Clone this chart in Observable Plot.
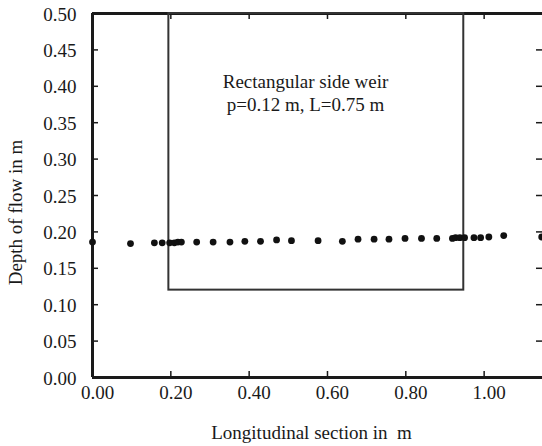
<!DOCTYPE html>
<html>
<head>
<meta charset="utf-8">
<script src="https://cdn.jsdelivr.net/npm/d3@7"></script>
<script src="https://cdn.jsdelivr.net/npm/@observablehq/plot@0.6"></script>
<style>
  html, body { margin: 0; padding: 0; background: #fff; }
  svg text { font-family: "Liberation Serif", "Times New Roman", Times, Tinos, "Noto Serif", "DejaVu Serif", serif !important; }
</style>
</head>
<body>
<div id="chart"></div>
<script>
// Longitudinal section positions (m)
const xPos = [0.000, 0.097, 0.158, 0.178, 0.197, 0.209, 0.218, 0.227, 0.266, 0.308, 0.351, 0.389,
              0.429, 0.470, 0.508, 0.576, 0.638, 0.678, 0.719, 0.757, 0.798, 0.840, 0.879, 0.919,
              0.927, 0.938, 0.950, 0.974, 0.991, 1.012, 1.050, 1.147];
// Depth of flow (m)
const depth = [0.186, 0.184, 0.185, 0.185, 0.185, 0.185, 0.186, 0.186, 0.186, 0.186, 0.186, 0.187,
               0.187, 0.189, 0.188, 0.188, 0.187, 0.190, 0.190, 0.190, 0.191, 0.191, 0.191, 0.191,
               0.192, 0.192, 0.192, 0.192, 0.192, 0.193, 0.195, 0.193];
// Side weir outline: start, end, crest height, top
const weirStart = [0.195];
const weirEnd = [0.948];
const weirCrest = [0.12];
const weirTop = [0.50];
const xTicks = [0, 0.2, 0.4, 0.6, 0.8, 1.0];
const yTicks = [0, 0.05, 0.10, 0.15, 0.20, 0.25, 0.30, 0.35, 0.40, 0.45, 0.50];
const noteText = ["Rectangular side weir\np=0.12 m, L=0.75 m"];
const noteX = [0.544];
const noteY = [0.3925];
const xLabel = "Longitudinal section in  m";
const yLabel = "Depth of flow in m";

const points = xPos.map((x, i) => ({x, y: depth[i]}));
const weir = weirStart.map((s, i) => ({x1: s, x2: weirEnd[i], y1: weirCrest[i], y2: weirTop[i]}));
const note = noteText.map((t, i) => ({t, x: noteX[i], y: noteY[i]}));

const ink = "#1a1a1a";
const font = "'Liberation Serif', 'Times New Roman', Times, Tinos, 'Noto Serif', 'DejaVu Serif', serif";

const W = 542, H = 446, mL = 92, mR = 0, mT = 13, mB = 69;
const tk = 6;
const frameW = W - mL - mR, frameH = H - mT - mB;

const chart = Plot.plot({
  width: W,
  height: H,
  marginLeft: mL,
  marginRight: mR,
  marginTop: mT,
  marginBottom: mB,
  style: {fontFamily: font, fontSize: "19px", color: ink, background: "#fff"},
  x: {domain: [0, 1.149]},
  y: {domain: [0, 0.5]},
  marks: [
    // tick labels
    Plot.axisX({anchor: "bottom", ticks: xTicks, tickFormat: d3.format(".2f"), tickSize: 0, tickPadding: 8, dx: 5, label: null, fill: ink}),
    Plot.axisY({anchor: "left", ticks: yTicks, tickFormat: d3.format(".2f"), tickSize: 0, tickPadding: 16, dy: 1, label: null, fill: ink}),
    // inward tick marks on all four sides
    Plot.tickY(yTicks, {y: d => d, insetRight: frameW - tk, stroke: ink, strokeWidth: 1.5}),
    Plot.tickY(yTicks, {y: d => d, insetLeft: frameW - tk, stroke: ink, strokeWidth: 1.5}),
    Plot.tickX(xTicks, {x: d => d, insetTop: frameH - tk, stroke: ink, strokeWidth: 1.5}),
    Plot.tickX(xTicks, {x: d => d, insetBottom: frameH - tk, stroke: ink, strokeWidth: 1.5}),
    // frame
    Plot.ruleX([0], {stroke: ink, strokeWidth: 3}),
    Plot.ruleY([0], {stroke: ink, strokeWidth: 3}),
    Plot.ruleY([0.5], {stroke: ink, strokeWidth: 3}),
    Plot.rect(weir, {x1: "x1", x2: "x2", y1: "y1", y2: "y2", fill: "none", stroke: "#333", strokeWidth: 2}),
    Plot.dot(points, {x: "x", y: "y", r: 3.4, fill: "#111", stroke: null}),
    Plot.text(note, {x: "x", y: "y", text: "t", fontSize: 19, lineHeight: 1.21, fill: ink, fontFamily: font}),
    Plot.text([xLabel], {frameAnchor: "bottom", textAnchor: "middle", lineAnchor: "middle", dy: 55, dx: -6, fontSize: 19, fill: ink, fontFamily: font}),
    Plot.text([yLabel], {frameAnchor: "left", textAnchor: "middle", lineAnchor: "middle", rotate: -90, dx: -77, dy: 17, fontSize: 19, fill: ink, fontFamily: font})
  ]
});
document.getElementById("chart").appendChild(chart);
</script>
</body>
</html>
